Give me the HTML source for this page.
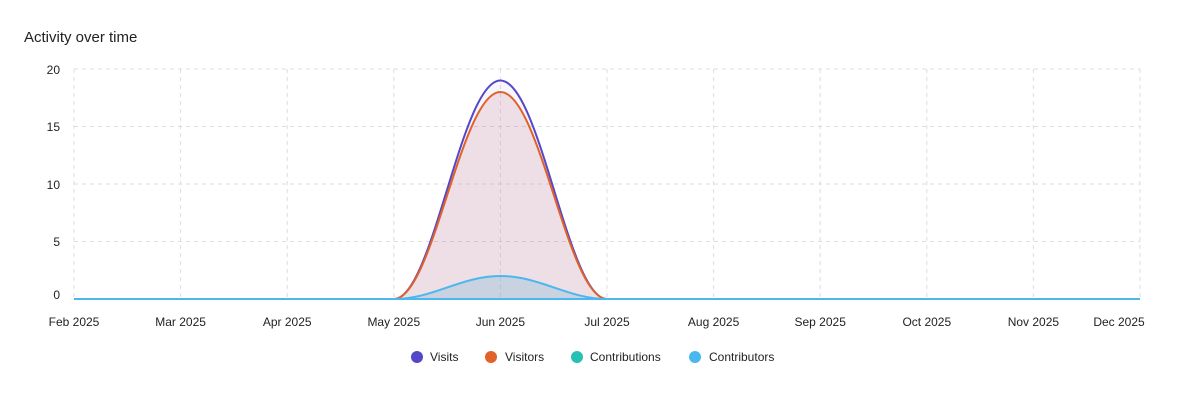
<!DOCTYPE html>
<html><head><style>
html,body{margin:0;padding:0;background:#fff;}
svg{display:block;font-family:"Liberation Sans",sans-serif;}
</style></head><body>
<svg width="1179" height="400" viewBox="0 0 1179 400">
<text x="24" y="42" font-size="15" fill="#222">Activity over time</text>
<g stroke="#ddd" stroke-dasharray="4,4" stroke-width="1">
<line x1="74" y1="69" x2="1140" y2="69"/>
<line x1="74" y1="126.5" x2="1140" y2="126.5"/>
<line x1="74" y1="184" x2="1140" y2="184"/>
<line x1="74" y1="241.5" x2="1140" y2="241.5"/>
<line x1="74" y1="69" x2="74" y2="299"/>
<line x1="180.6" y1="69" x2="180.6" y2="299"/>
<line x1="287.2" y1="69" x2="287.2" y2="299"/>
<line x1="393.8" y1="69" x2="393.8" y2="299"/>
<line x1="500.4" y1="69" x2="500.4" y2="299"/>
<line x1="607" y1="69" x2="607" y2="299"/>
<line x1="713.6" y1="69" x2="713.6" y2="299"/>
<line x1="820.2" y1="69" x2="820.2" y2="299"/>
<line x1="926.8" y1="69" x2="926.8" y2="299"/>
<line x1="1033.4" y1="69" x2="1033.4" y2="299"/>
<line x1="1140" y1="69" x2="1140" y2="299"/>
</g>
<g font-size="12" fill="#222" text-anchor="end">
<text x="60" y="74">20</text><text x="60" y="131">15</text><text x="60" y="189">10</text><text x="60" y="246">5</text><text x="60" y="299">0</text>
</g>
<g font-size="12" fill="#222" text-anchor="middle">
<text x="74" y="326">Feb 2025</text><text x="180.6" y="326">Mar 2025</text><text x="287.2" y="326">Apr 2025</text><text x="393.8" y="326">May 2025</text><text x="500.4" y="326">Jun 2025</text><text x="607" y="326">Jul 2025</text><text x="713.6" y="326">Aug 2025</text><text x="820.2" y="326">Sep 2025</text><text x="926.8" y="326">Oct 2025</text><text x="1033.4" y="326">Nov 2025</text><text x="1119" y="326">Dec 2025</text>
</g>
<path d="M394 299 C433 299 461 80.5 500.4 80.5 C540 80.5 568 299 607 299Z" fill="rgba(90,80,200,0.05)"/>
<path d="M394 299 C433 299 461 92 500.4 92 C540 92 568 299 607 299Z" fill="rgba(205,140,150,0.22)"/>
<path d="M394 299 C433 299 461 276 500.4 276 C540 276 568 299 607 299Z" fill="rgba(90,170,210,0.25)"/>
<path d="M394 299 C433 299 461 80.5 500.4 80.5 C540 80.5 568 299 607 299" fill="none" stroke="#5548c8" stroke-width="2"/>
<path d="M394 299 C433 299 461 92 500.4 92 C540 92 568 299 607 299" fill="none" stroke="#e0622a" stroke-width="2"/>
<line x1="74" y1="299" x2="1140" y2="299" stroke="#4ab8ee" stroke-width="2"/>
<path d="M394 299 C433 299 461 276 500.4 276 C540 276 568 299 607 299" fill="none" stroke="#4ab8ee" stroke-width="2"/>
<g font-size="12" fill="#222">
<circle cx="417" cy="357" r="6" fill="#5548c8"/><text x="430" y="361">Visits</text>
<circle cx="491" cy="357" r="6" fill="#e0622a"/><text x="505" y="361">Visitors</text>
<circle cx="577" cy="357" r="6" fill="#26c0b4"/><text x="590" y="361">Contributions</text>
<circle cx="695" cy="357" r="6" fill="#4ab8ee"/><text x="709" y="361">Contributors</text>
</g>
</svg>
</body></html>
